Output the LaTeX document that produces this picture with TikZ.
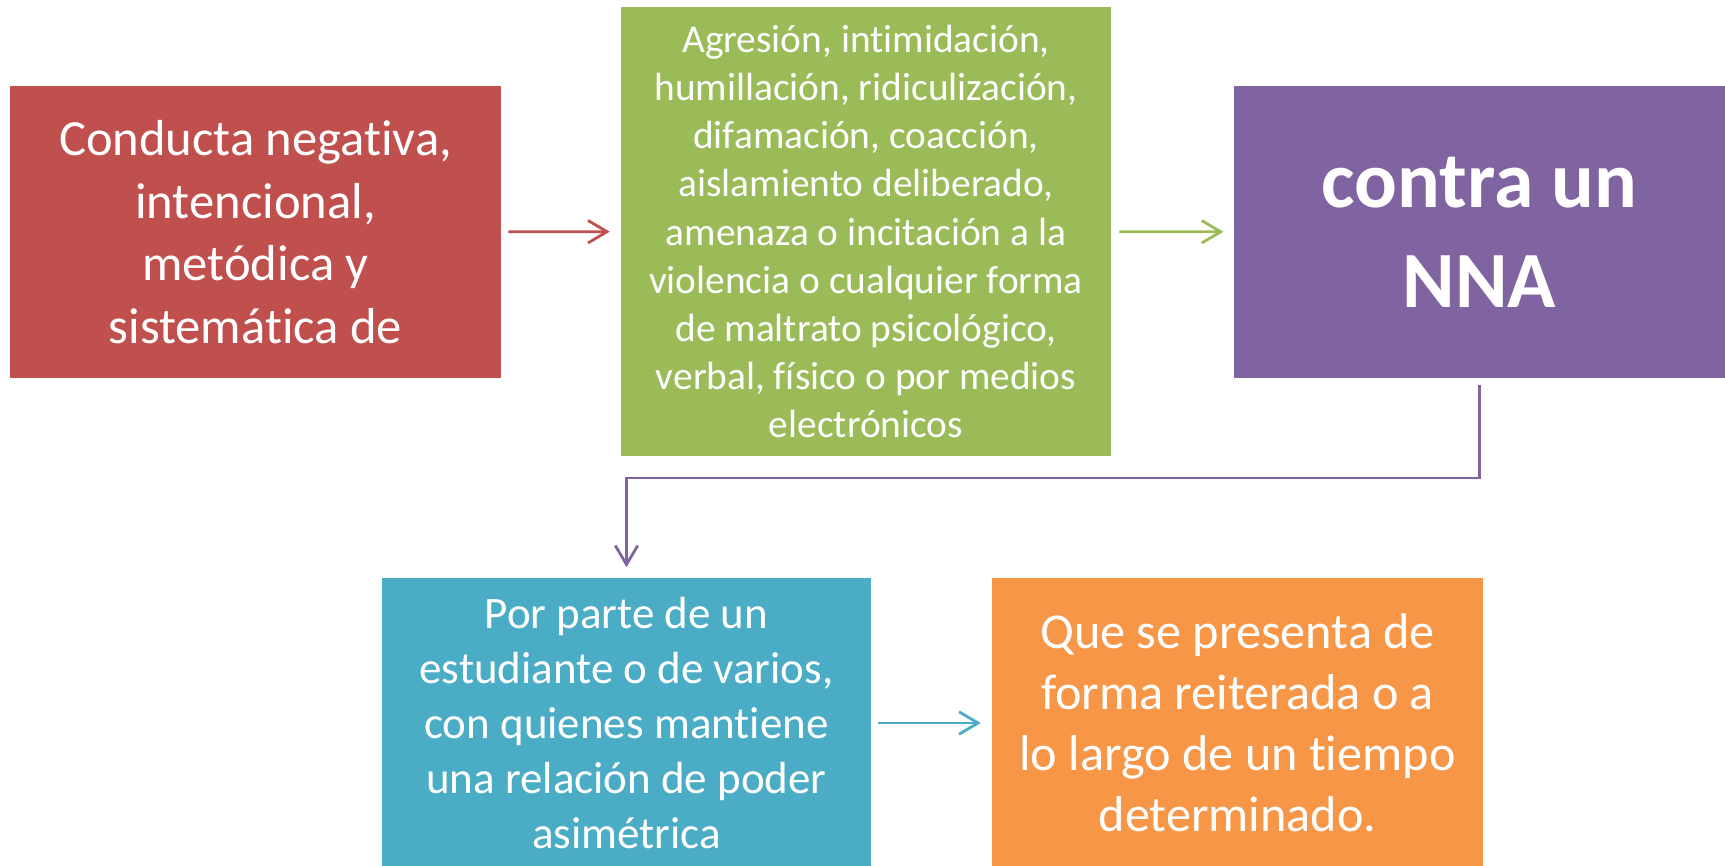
\documentclass[tikz,border=0pt]{standalone}
\usepackage{fontspec}
\setmainfont{Carlito}[Ligatures={TeX,NoCommon,NoContextual}, Contextuals=NoAlternate]
\usetikzlibrary{arrows.meta}

\definecolor{rojo}{HTML}{C0504D}
\definecolor{verde}{HTML}{9BBB59}
\definecolor{morado}{HTML}{8064A2}
\definecolor{celeste}{HTML}{4BACC6}
\definecolor{naranja}{HTML}{F79646}

\begin{document}
\begin{tikzpicture}
[line width=0.8pt,
box/.style={rectangle, inner sep=0pt, align=center, text=white},
boxred/.style={box, fill=rojo, minimum width=4.91cm, minimum height=2.92cm, font=\fontsize{14.4}{17.8}\selectfont},
boxgreen/.style={box, fill=verde, minimum width=4.90cm, minimum height=4.49cm, font=\fontsize{11.2}{13.7}\selectfont},
boxpurple/.style={box, fill=morado, minimum width=4.91cm, minimum height=2.92cm, font=\fontsize{22.7}{28.4}\selectfont\bfseries},
boxcyan/.style={box, fill=celeste, minimum width=4.89cm, minimum height=2.89cm, font=\fontsize{12.8}{15.65}\selectfont},
boxorange/.style={box, fill=naranja, minimum width=4.91cm, minimum height=2.89cm, font=\fontsize{14.3}{17.4}\selectfont},
link/.style={-{Straight Barb[length=5.4pt,width=6.4pt,line width=0.8pt]}, shorten <=1.7pt, shorten >=2.8pt}]

\useasboundingbox (0,0) rectangle (17.25,8.66);

\node[boxred] (conducta) at (2.555,6.34) {Conducta negativa,\\intencional,\\metódica y\\sistemática de};
\node[boxgreen] (agresion) at (8.66,6.345) {Agresión, intimidación,\\humillación, ridiculización,\\difamación, coacción,\\aislamiento deliberado,\\amenaza o incitación a la\\violencia o cualquier forma\\de maltrato psicológico,\\verbal, físico o por medios\\electrónicos};
\node[boxpurple] (nna) at (14.795,6.34) {contra un\\NNA};

\node[boxcyan] (estudiante) at (6.265,1.43) {Por parte de un\\estudiante o de varios,\\con quienes mantiene\\una relación de poder\\asimétrica};
\node[boxorange] (reiterada) at (12.375,1.43) {Que se presenta de\\forma reiterada o a\\lo largo de un tiempo\\determinado.};

\coordinate (turn) at (14.795,3.88);

\draw[link, rojo] (conducta) -- (agresion);
\draw[link, verde, shorten <=2pt, shorten >=2.6pt] (agresion) -- (nna);
\draw[link, morado] (nna.south) -- (turn) -| (estudiante.north);
\draw[link, celeste] (estudiante) -- (reiterada);
\end{tikzpicture}
\end{document}
